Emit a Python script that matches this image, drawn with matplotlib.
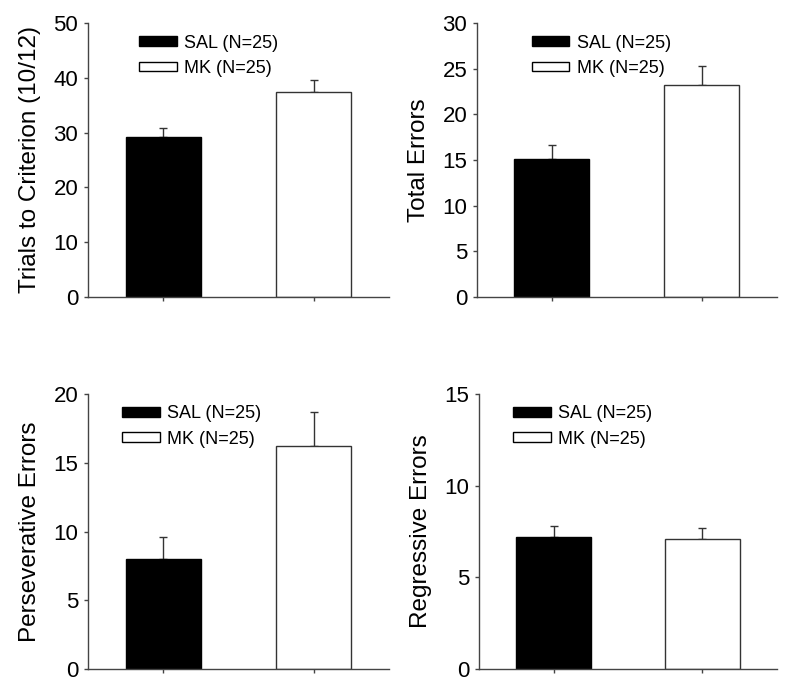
import matplotlib
matplotlib.use('Agg')
import matplotlib.pyplot as plt
from matplotlib.patches import Patch

plt.rcParams['font.family'] = ['Liberation Sans', 'DejaVu Sans']

groups = ['SAL (N=25)', 'MK (N=25)']
bar_colors = ['black', 'white']

ylabels = ['Trials to Criterion (10/12)', 'Total Errors',
           'Perseverative Errors', 'Regressive Errors']
ymax = [50, 30, 20, 15]
ystep = [10, 5, 5, 5]

trials_mean = [29.1, 37.4]
trials_sem = [1.7, 2.1]
total_mean = [15.1, 23.2]
total_sem = [1.5, 2.1]
persev_mean = [8.0, 16.2]
persev_sem = [1.6, 2.5]
regress_mean = [7.2, 7.1]
regress_sem = [0.6, 0.6]

means = [trials_mean, total_mean, persev_mean, regress_mean]
sems = [trials_sem, total_sem, persev_sem, regress_sem]

# axes boxes in figure fractions (left, bottom, width, height)
boxes = [(0.1121, 0.5652, 0.3834, 0.4012),
         (0.6076, 0.5652, 0.3822, 0.4012),
         (0.1121, 0.0205, 0.3834, 0.4026),
         (0.6102, 0.0205, 0.3796, 0.4026)]
leg_x = [0.169, 0.182, 0.113, 0.114]
leg_y = [0.880, 0.880, 0.882, 0.882]

axis_col = '#444444'

fig = plt.figure(figsize=(7.85, 6.83), dpi=100)

for i in range(4):
    ax = fig.add_axes(boxes[i])
    x = [0, 1]
    ax.bar(x, means[i], width=0.5, color=bar_colors, edgecolor=['black', '#333333'],
           linewidth=1.0, zorder=2)
    ax.errorbar(x, means[i], yerr=[[0, 0], sems[i]], fmt='none', ecolor='#333333',
                elinewidth=1.0, capsize=2.9, capthick=1.0, zorder=1)
    ax.set_xlim(-0.5, 1.5)
    ax.set_ylim(0, ymax[i])
    ax.set_yticks(range(0, ymax[i] + 1, ystep[i]))
    ax.set_xticks(x)
    ax.set_xticklabels([])
    ax.spines['top'].set_visible(False)
    ax.spines['right'].set_visible(False)
    for s in ['left', 'bottom']:
        ax.spines[s].set_color(axis_col)
        ax.spines[s].set_linewidth(1.0)
    ax.tick_params(axis='both', colors=axis_col, length=3, width=1.0, direction='out')
    ax.tick_params(axis='y', labelsize=16, labelcolor='black', pad=4)
    ax.set_ylabel(ylabels[i], fontsize=17.5, labelpad=9)

    handles = [Patch(facecolor=bar_colors[j], edgecolor='black', linewidth=1.0)
               for j in range(2)]
    ax.legend(handles, groups, loc='center left', bbox_to_anchor=(leg_x[i], leg_y[i]),
              frameon=False, fontsize=13, handlelength=2.1, handleheight=0.45,
              handletextpad=0.4, labelspacing=0.45, borderpad=0, borderaxespad=0)

fig.savefig('out.png', dpi=100)
